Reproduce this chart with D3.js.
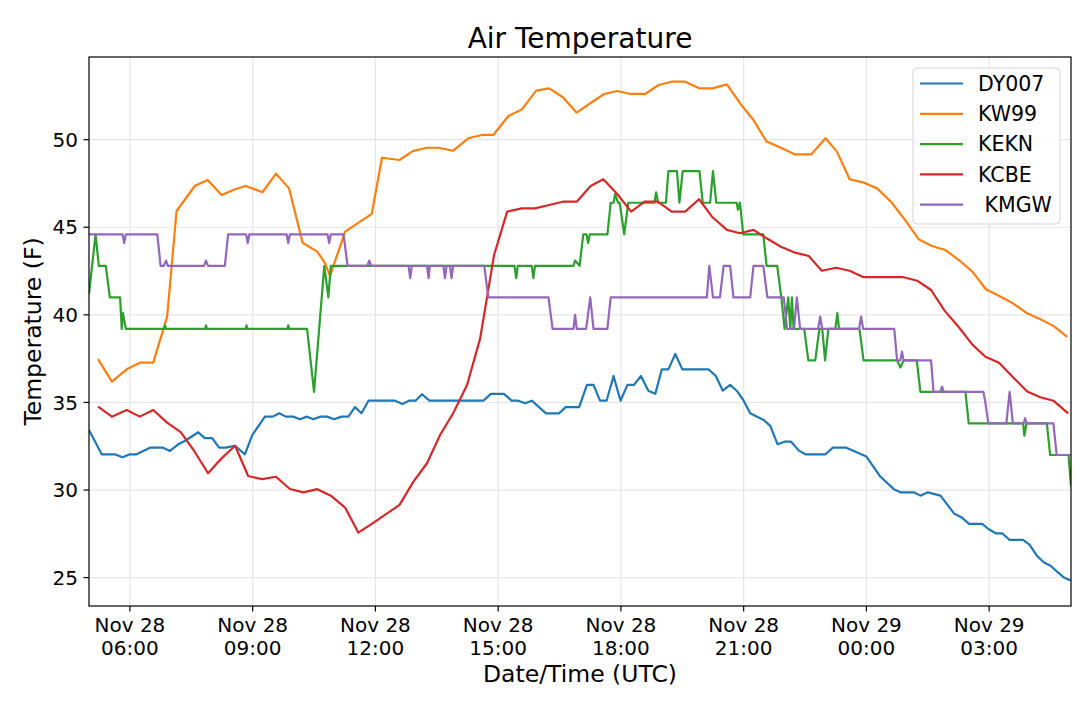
<!DOCTYPE html>
<html>
<head>
<meta charset="utf-8">
<script src="https://cdn.jsdelivr.net/npm/d3@7"></script>
<style>
  body { margin: 0; background: #fff; }
  text { font-family: "DejaVu Sans", sans-serif; fill: #000; }
</style>
</head>
<body>
<div id="chart"></div>
<script>
// hours after 2018-11-28 00:00 UTC, temperature in F
const dy007 = [[5.00,33.43],[5.31,32.04],[5.63,32.04],[5.82,31.87],[6.00,32.04],[6.16,32.04],[6.49,32.42],[6.81,32.42],[6.98,32.23],[7.18,32.61],[7.34,32.80],[7.67,33.30],[7.83,32.96],[8.01,32.96],[8.18,32.42],[8.34,32.42],[8.57,32.53],[8.81,32.04],[8.99,33.14],[9.30,34.19],[9.49,34.19],[9.65,34.38],[9.81,34.19],[9.99,34.19],[10.16,34.04],[10.32,34.19],[10.48,34.04],[10.66,34.19],[10.82,34.19],[10.99,34.04],[11.17,34.19],[11.34,34.19],[11.50,34.73],[11.66,34.38],[11.83,35.10],[12.48,35.10],[12.66,34.91],[12.82,35.10],[12.98,35.10],[13.14,35.47],[13.32,35.10],[14.64,35.10],[14.82,35.49],[15.14,35.49],[15.33,35.10],[15.49,35.10],[15.66,34.95],[15.82,35.10],[16.17,34.38],[16.49,34.38],[16.65,34.73],[16.98,34.73],[17.17,36.00],[17.33,36.00],[17.49,35.10],[17.65,35.10],[17.82,36.51],[17.99,35.10],[18.16,36.00],[18.32,36.00],[18.49,36.51],[18.67,35.67],[18.84,35.49],[19.00,36.89],[19.16,36.89],[19.33,37.77],[19.50,36.89],[20.14,36.89],[20.32,36.51],[20.49,35.67],[20.67,36.00],[20.83,35.67],[20.99,35.14],[21.16,34.38],[21.49,34.00],[21.65,33.66],[21.83,32.61],[22.00,32.76],[22.16,32.76],[22.35,32.25],[22.51,32.04],[23.00,32.04],[23.18,32.42],[23.51,32.42],[24.00,31.91],[24.34,30.77],[24.67,30.05],[24.83,29.87],[25.16,29.87],[25.32,29.68],[25.50,29.87],[25.81,29.68],[26.15,28.64],[26.32,28.45],[26.51,28.07],[26.83,28.07],[26.99,27.76],[27.16,27.53],[27.32,27.53],[27.50,27.15],[27.83,27.15],[27.99,26.87],[28.17,26.24],[28.34,25.86],[28.50,25.68],[28.66,25.34],[28.83,25.00],[28.99,24.83]];

const kw99 = [[5.22,37.47],[5.56,36.19],[5.92,36.89],[6.24,37.27],[6.57,37.27],[6.91,39.90],[7.14,45.93],[7.59,47.37],[7.90,47.70],[8.24,46.84],[8.57,47.17],[8.83,47.36],[9.24,47.00],[9.57,48.06],[9.89,47.22],[10.22,44.12],[10.58,43.61],[10.77,42.94],[10.89,42.22],[11.26,44.75],[11.91,45.76],[12.16,48.97],[12.59,48.84],[12.91,49.35],[13.26,49.54],[13.54,49.54],[13.90,49.37],[14.27,50.08],[14.60,50.27],[14.88,50.27],[15.25,51.35],[15.58,51.73],[15.93,52.80],[16.25,52.93],[16.58,52.42],[16.92,51.54],[17.25,52.08],[17.59,52.61],[17.91,52.78],[18.24,52.61],[18.59,52.61],[18.92,53.12],[19.24,53.31],[19.57,53.31],[19.91,52.93],[20.24,52.93],[20.59,53.16],[20.91,52.08],[21.24,51.12],[21.56,49.89],[21.91,49.54],[22.26,49.16],[22.65,49.16],[23.00,50.08],[23.28,49.32],[23.59,47.74],[23.93,47.55],[24.26,47.22],[24.60,46.46],[24.93,45.46],[25.28,44.31],[25.60,43.93],[25.93,43.70],[26.26,43.13],[26.59,42.47],[26.92,41.46],[27.25,41.08],[27.58,40.66],[27.93,40.09],[28.25,39.75],[28.57,39.37],[28.91,38.74]];

const kekn = [[5.00,41.2],[5.16,44.6],[5.24,42.8],[5.41,42.8],[5.51,41.0],[5.76,41.0],[5.80,39.2],[5.83,40.1],[5.90,39.2],[6.84,39.2],[6.86,39.4],[6.88,39.2],[7.84,39.2],[7.86,39.4],[7.88,39.2],[8.83,39.2],[8.85,39.4],[8.87,39.2],[9.85,39.2],[9.87,39.4],[9.89,39.2],[10.33,39.2],[10.50,35.6],[10.75,42.8],[10.85,41.0],[10.91,42.8],[15.40,42.8],[15.44,42.1],[15.48,42.8],[15.82,42.8],[15.86,42.1],[15.90,42.8],[16.84,42.8],[16.88,43.1],[16.99,42.8],[17.08,44.6],[17.16,44.6],[17.20,44.1],[17.24,44.6],[17.67,44.6],[17.75,46.4],[17.82,46.4],[17.86,46.9],[17.93,46.4],[17.97,46.4],[18.08,44.6],[18.18,46.4],[18.82,46.4],[18.86,47.0],[18.91,46.4],[19.10,46.4],[19.16,48.2],[19.37,48.2],[19.43,46.4],[19.51,48.2],[19.92,48.2],[20.00,46.4],[20.18,46.4],[20.25,48.2],[20.33,46.4],[20.83,46.4],[20.86,46.0],[20.91,46.4],[20.99,44.6],[21.48,44.6],[21.56,42.8],[21.82,42.8],[21.92,41.0],[22.00,39.2],[22.09,41.0],[22.14,39.2],[22.18,41.0],[22.22,39.2],[22.48,39.2],[22.58,37.4],[22.75,37.4],[22.85,39.2],[22.92,39.2],[22.99,37.4],[23.07,39.2],[23.24,39.2],[23.29,40.1],[23.33,39.2],[23.83,39.2],[23.93,37.4],[24.75,37.4],[24.83,37.0],[24.91,37.4],[25.23,37.4],[25.32,35.6],[26.42,35.6],[26.50,33.8],[27.83,33.8],[27.86,33.1],[27.91,33.8],[28.41,33.8],[28.49,32.0],[28.94,32.0],[29.00,30.2]];

const kcbe = [[5.22,34.76],[5.56,34.19],[5.92,34.57],[6.24,34.19],[6.57,34.57],[6.91,33.85],[7.24,33.30],[7.57,32.23],[7.91,30.96],[8.24,31.81],[8.57,32.53],[8.89,30.80],[9.23,30.62],[9.57,30.76],[9.91,30.06],[10.24,29.87],[10.58,30.05],[10.91,29.68],[11.26,29.00],[11.58,27.57],[11.93,28.10],[12.26,28.62],[12.59,29.15],[12.93,30.48],[13.26,31.53],[13.58,33.14],[13.90,34.38],[14.24,36.00],[14.56,38.66],[14.90,43.42],[15.22,45.89],[15.58,46.08],[15.90,46.08],[16.25,46.27],[16.58,46.46],[16.92,46.46],[17.26,47.36],[17.57,47.74],[17.91,46.90],[18.25,45.89],[18.58,46.46],[18.90,46.46],[19.24,45.89],[19.57,45.89],[19.91,46.60],[20.24,45.57],[20.59,44.85],[20.91,44.66],[21.24,44.85],[21.56,44.37],[21.91,43.89],[22.26,43.55],[22.59,43.36],[22.91,42.52],[23.26,42.69],[23.59,42.52],[23.93,42.15],[24.91,42.15],[25.24,41.95],[25.58,41.42],[25.91,40.24],[26.26,39.29],[26.59,38.30],[26.91,37.61],[27.24,37.27],[27.57,36.47],[27.93,35.62],[28.25,35.30],[28.57,35.10],[28.93,34.38]];

const kmgw = [[5.00,44.6],[5.82,44.6],[5.86,44.1],[5.90,44.6],[6.67,44.6],[6.75,42.8],[6.83,42.8],[6.88,43.1],[6.93,42.8],[7.81,42.8],[7.86,43.1],[7.91,42.8],[8.32,42.8],[8.40,44.6],[8.84,44.6],[8.88,44.1],[8.92,44.6],[9.83,44.6],[9.87,44.1],[9.91,44.6],[10.83,44.6],[10.87,44.1],[10.91,44.6],[11.22,44.6],[11.32,42.8],[11.80,42.8],[11.85,43.1],[11.90,42.8],[12.81,42.8],[12.85,42.1],[12.89,42.8],[13.26,42.8],[13.30,42.1],[13.33,42.8],[13.66,42.8],[13.70,42.1],[13.74,42.8],[13.82,42.8],[13.86,42.1],[13.90,42.8],[14.66,42.8],[14.76,41.0],[16.23,41.0],[16.33,39.2],[16.84,39.2],[16.88,40.0],[16.92,39.2],[17.15,39.2],[17.25,41.0],[17.33,39.2],[17.67,39.2],[17.75,41.0],[20.10,41.0],[20.16,42.8],[20.25,41.0],[20.42,41.0],[20.51,42.8],[20.67,42.8],[20.75,41.0],[21.16,41.0],[21.24,42.8],[21.48,42.8],[21.58,41.0],[21.98,41.0],[22.06,39.2],[22.23,39.2],[22.30,41.0],[22.38,39.2],[22.82,39.2],[22.87,39.9],[22.92,39.2],[23.82,39.2],[23.87,39.9],[23.92,39.2],[24.68,39.2],[24.75,37.4],[24.83,37.4],[24.87,37.9],[24.91,37.4],[25.58,37.4],[25.64,35.6],[25.80,35.6],[25.85,35.9],[25.89,35.6],[26.86,35.6],[26.90,35.1],[26.98,33.8],[27.42,33.8],[27.50,35.6],[27.58,33.8],[27.84,33.8],[27.88,34.1],[27.92,33.8],[28.57,33.8],[28.65,32.0],[29.00,32.0]];

const seriesNames = ["DY007", "KW99", "KEKN", "KCBE", " KMGW"];
const seriesData = [dy007, kw99, kekn, kcbe, kmgw];
const seriesColors = ["#1f77b4", "#ff7f0e", "#2ca02c", "#d62728", "#9467bd"];
const yTicks = [25, 30, 35, 40, 45, 50];
const xStartHour = 5, xEndHour = 29;

const base = Date.UTC(2018, 10, 28, 0, 0);
const toDate = h => new Date(base + h * 3600 * 1000);

const width = 1080, height = 707;
const margin = { top: 57, right: 9, bottom: 101, left: 89 };

const svg = d3.select("#chart").append("svg")
    .attr("width", width)
    .attr("height", height)
    .style("background", "#fff");

const x = d3.scaleUtc()
    .domain([toDate(xStartHour), toDate(xEndHour)])
    .range([margin.left, width - margin.right]);

const y = d3.scaleLinear()
    .domain([23.38, 54.72])
    .range([height - margin.bottom, margin.top]);

const plotBottom = height - margin.bottom;
const plotRight = width - margin.right;

const majorTicks = d3.utcHour.every(3).range(toDate(xStartHour), toDate(xEndHour));
const minorTicks = d3.utcHour.every(1).range(toDate(xStartHour), toDate(xEndHour) + 1);

// grid
const grid = svg.append("g").attr("class", "grid")
    .attr("stroke", "#e6e6e6")
    .attr("stroke-width", 1.2);

grid.selectAll(".vgrid")
    .data(majorTicks)
    .enter().append("line")
    .attr("x1", d => x(d)).attr("x2", d => x(d))
    .attr("y1", margin.top).attr("y2", plotBottom);

grid.selectAll(".hgrid")
    .data(yTicks)
    .enter().append("line")
    .attr("x1", margin.left).attr("x2", plotRight)
    .attr("y1", d => y(d)).attr("y2", d => y(d));

// lines
const line = d3.line()
    .x(d => x(toDate(d[0])))
    .y(d => y(d[1]));

svg.append("defs").append("clipPath").attr("id", "plot-clip")
    .append("rect")
    .attr("x", margin.left).attr("y", margin.top)
    .attr("width", plotRight - margin.left)
    .attr("height", plotBottom - margin.top);

svg.append("g")
    .attr("clip-path", "url(#plot-clip)")
    .selectAll("path")
    .data(seriesData)
    .enter().append("path")
    .attr("d", line)
    .attr("fill", "none")
    .attr("stroke", (d, i) => seriesColors[i])
    .attr("stroke-width", 2.2)
    .attr("stroke-linejoin", "round");

// axes
const xAxis = svg.append("g")
    .attr("transform", `translate(0,${plotBottom})`);

xAxis.selectAll(".minor")
    .data(minorTicks)
    .enter().append("line")
    .attr("x1", d => x(d)).attr("x2", d => x(d))
    .attr("y1", 0).attr("y2", 3)
    .attr("stroke", "#000").attr("stroke-width", 1);

xAxis.selectAll(".major")
    .data(majorTicks)
    .enter().append("line")
    .attr("x1", d => x(d)).attr("x2", d => x(d))
    .attr("y1", 0).attr("y2", 5.5)
    .attr("stroke", "#000").attr("stroke-width", 1.2);

const fmtDay = d3.utcFormat("%b %d");
const fmtTime = d3.utcFormat("%H:%M");

const xLabels = xAxis.selectAll(".xlab")
    .data(majorTicks)
    .enter().append("text")
    .attr("text-anchor", "middle")
    .style("font-size", "20px");

xLabels.append("tspan")
    .attr("x", d => x(d))
    .attr("y", 25.5)
    .text(d => fmtDay(d));

xLabels.append("tspan")
    .attr("x", d => x(d))
    .attr("y", 49)
    .text(d => fmtTime(d));

const yAxis = svg.append("g");

yAxis.selectAll("line")
    .data(yTicks)
    .enter().append("line")
    .attr("x1", margin.left - 5.5).attr("x2", margin.left)
    .attr("y1", d => y(d)).attr("y2", d => y(d))
    .attr("stroke", "#000").attr("stroke-width", 1.2);

yAxis.selectAll("text")
    .data(yTicks)
    .enter().append("text")
    .attr("x", margin.left - 11)
    .attr("y", d => y(d))
    .attr("dy", "0.36em")
    .attr("text-anchor", "end")
    .style("font-size", "20px")
    .text(d => d);

// frame
svg.append("rect")
    .attr("x", margin.left).attr("y", margin.top)
    .attr("width", plotRight - margin.left)
    .attr("height", plotBottom - margin.top)
    .attr("fill", "none")
    .attr("stroke", "#000")
    .attr("stroke-width", 1.2);

// titles
svg.append("text")
    .attr("x", (margin.left + plotRight) / 2)
    .attr("y", 48)
    .attr("text-anchor", "middle")
    .style("font-size", "28px")
    .text("Air Temperature");

svg.append("text")
    .attr("x", (margin.left + plotRight) / 2)
    .attr("y", 682)
    .attr("text-anchor", "middle")
    .style("font-size", "23.5px")
    .text("Date/Time (UTC)");

svg.append("text")
    .attr("transform", `translate(41,${(margin.top + plotBottom) / 2}) rotate(-90)`)
    .attr("text-anchor", "middle")
    .style("font-size", "23.5px")
    .text("Temperature (F)");

// legend
const legend = svg.append("g")
    .attr("transform", "translate(913,68)");

legend.append("rect")
    .attr("width", 147)
    .attr("height", 156)
    .attr("rx", 4)
    .attr("fill", "#fff")
    .attr("fill-opacity", 0.8)
    .attr("stroke", "#d5d5d5")
    .attr("stroke-width", 1);

const legendItems = legend.selectAll(".legend-item")
    .data(seriesNames)
    .enter().append("g")
    .attr("transform", (d, i) => `translate(0,${15.5 + i * 30.3})`);

legendItems.append("line")
    .attr("x1", 7).attr("x2", 50)
    .attr("stroke", (d, i) => seriesColors[i])
    .attr("stroke-width", 2.2);

legendItems.append("text")
    .attr("x", 65)
    .attr("dy", "0.36em")
    .style("font-size", "20.5px")
    .style("white-space", "pre")
    .text(d => d);
</script>
</body>
</html>
